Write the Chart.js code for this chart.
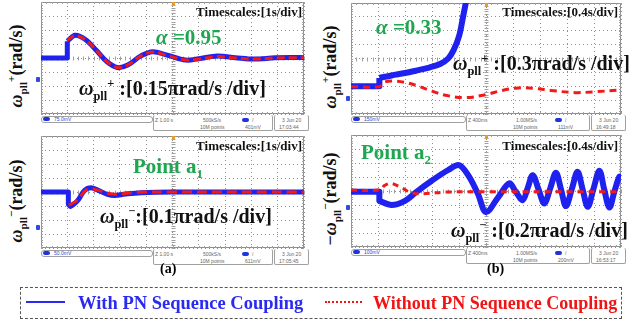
<!DOCTYPE html>
<html>
<head>
<meta charset="utf-8">
<script src="https://cdn.jsdelivr.net/npm/chart.js@4.4.0/dist/chart.umd.min.js"></script>
<style>
body{margin:0;width:636px;height:323px;position:relative;background:#fff;overflow:hidden;font-family:"Liberation Serif","Times New Roman",serif;}
canvas{position:absolute;}
.t{position:absolute;white-space:nowrap;font-weight:bold;line-height:1;z-index:5;}
.ts{font-size:13px;color:#111;}
.gr{font-size:21px;color:#1ea650;}
.sc{font-size:20px;color:#111;}
.yl{position:absolute;width:130px;height:22px;line-height:22px;text-align:center;font-size:18px;font-weight:bold;transform:rotate(-90deg);white-space:nowrap;color:#111;}
sub,sup{font-size:62%;line-height:0;}
.box{position:absolute;border:1px solid #a0a0a0;border-radius:2px;}
.tiny{position:absolute;font-family:"Liberation Sans",sans-serif;font-size:5px;color:#666;white-space:nowrap;line-height:1;}
.ell{position:absolute;width:7px;height:4px;background:#2233dd;border-radius:3px;}
.mk{position:absolute;width:4px;height:5px;background:#2d4be0;border-radius:1px;}
</style>
</head>
<body>

<canvas id="aTop" width="265" height="114" style="left:40px;top:1px"></canvas>
<canvas id="aBot" width="265" height="114" style="left:40px;top:135px"></canvas>
<canvas id="bTop" width="272" height="113" style="left:350px;top:2px"></canvas>
<canvas id="bBot" width="272" height="114" style="left:350px;top:134px"></canvas>

<!-- y labels -->
<div class="yl" style="left:-49px;top:55px"><i>ω</i><sub>pll</sub><sup>+</sup>(rad/s)</div>
<div class="yl" style="left:-49px;top:190px"><i>ω</i><sub>pll</sub><sup>−</sup>(rad/s)</div>
<div class="yl" style="left:265px;top:56px"><i>ω</i><sub>pll</sub><sup>+</sup>(rad/s)</div>
<div class="yl" style="left:265px;top:188px">−<i>ω</i><sub>pll</sub><sup>−</sup>(rad/s)</div>

<!-- panel texts -->
<div class="t ts" style="right:334px;top:5px">Timescales:[1s/div]</div>
<div class="t gr" style="left:156px;top:27px"><i>α</i> =0.95</div>
<div class="t sc" style="left:79px;top:78px"><i>ω</i><sub>pll</sub><sup>+</sup> :[0.15πrad/s /div]</div>

<div class="t ts" style="right:18px;top:5px">Timescales:[0.4s/div]</div>
<div class="t gr" style="left:376px;top:17px"><i>α</i> =0.33</div>
<div class="t sc" style="left:453px;top:53px"><i>ω</i><sub>pll</sub><sup>+</sup> :[0.3πrad/s /div]</div>

<div class="t ts" style="right:334px;top:139px">Timescales:[1s/div]</div>
<div class="t gr" style="left:133px;top:156px">Point a<sub>1</sub></div>
<div class="t sc" style="left:100px;top:206px"><i>ω</i><sub>pll</sub><sup>−</sup>:[0.1πrad/s /div]</div>

<div class="t ts" style="right:18px;top:139px">Timescales:[0.4s/div]</div>
<div class="t gr" style="left:361px;top:142px">Point a<sub>2</sub></div>
<div class="t sc" style="left:451px;top:220px"><i>ω</i><sub>pll</sub><sup>−</sup> :[0.2πrad/s /div]</div>

<div class="t" style="left:160px;top:262px;font-size:14px">(a)</div>
<div class="t" style="left:487px;top:262px;font-size:14px">(b)</div>

<!-- legend -->
<div style="position:absolute;left:20px;top:287px;width:600px;height:30px;border:1.3px dashed #555;"></div>
<div style="position:absolute;left:26px;top:301px;width:39px;height:2px;background:#2a2af0"></div>
<div class="t" style="left:78px;top:294px;font-size:18.5px;color:#2a2af0">With PN Sequence Coupling</div>
<div style="position:absolute;left:325px;top:301px;width:37px;height:0;border-top:2px dotted #f01515"></div>
<div class="t" style="left:373px;top:294px;font-size:18px;color:#f01515">Without PN Sequence Coupling</div>

<script>
// values in oscilloscope divisions: [time div, amplitude div]
const aTopBlue = [[0,0],[1.0,0],[1.0,1.2],[1.3,1.62],[1.7,1.3],[2.1,0.55],[2.5,-0.25],[2.9,-0.68],[3.3,-0.5],[3.8,0.15],[4.25,0.45],[4.8,0.2],[5.5,-0.15],[6.0,-0.05],[6.7,0.14],[7.4,0.02],[8.1,-0.08],[8.9,0.02],[9.5,0.04],[10,0.02]];
const aTopRed = [[1.0,1.25],[1.3,1.6],[1.7,1.28],[2.1,0.55],[2.5,-0.25],[2.9,-0.68],[3.3,-0.5],[3.8,0.15],[4.25,0.42],[4.8,0.18],[5.5,-0.15],[6.0,-0.08],[6.7,0.1],[7.4,0.0],[8.1,-0.08],[8.9,0.0],[9.5,0.02],[10,0.02]];

const aBotBlue = [[0,0],[1.04,0],[1.04,-0.85],[1.12,-1.03],[1.4,-0.6],[1.65,0.1],[1.9,0.3],[2.2,0.1],[2.5,-0.15],[2.8,-0.25],[3.2,-0.15],[3.8,-0.05],[5,0],[10,0]];
const aBotRed = [[1.06,-0.95],[1.4,-0.55],[1.7,0.12],[1.95,0.22],[2.3,0.05],[2.7,-0.15],[3.1,-0.12],[3.7,-0.02],[5,0],[10,0]];

const bTopBlue = [[0,-2.0],[1.05,-2.0],[1.05,-1.4],[1.5,-1.22],[2.0,-1.05],[2.4,-0.88],[2.9,-0.65],[3.3,-0.4],[3.6,0.0],[3.8,0.6],[4.0,1.6],[4.15,3.0],[4.28,4.3]];
const bTopRed = [[0,-2.03],[1.05,-2.03],[1.25,-1.7],[1.55,-1.62],[2.0,-1.72],[2.5,-2.0],[3.0,-2.35],[3.5,-2.65],[4.25,-2.82],[5.0,-2.6],[5.6,-2.3],[6.2,-2.12],[6.8,-2.15],[7.4,-2.3],[8.3,-2.46],[9.0,-2.4],[10,-2.27]];

const bBotBlue = [[0,-0.06],[1.05,-0.06],[1.05,-0.7],[1.5,-1.0],[2.0,-0.7],[2.4,-0.1],[3.0,0.75],[3.6,1.5],[4.0,1.85],[4.35,1.1],[4.7,-0.2],[5.0,-1.5],[5.45,-0.45],[5.86,0.54],[6.1,-0.05],[6.36,-0.65],[6.55,0.25],[6.73,1.13],[6.95,0.1],[7.16,-0.89],[7.38,0.2],[7.59,1.3],[7.78,0.1],[7.96,-1.08],[8.18,0.15],[8.39,1.37],[8.58,0.1],[8.77,-1.13],[8.98,0.15],[9.2,1.45],[9.38,0.1],[9.57,-1.18],[9.76,0.0],[9.94,1.02],[10,0.9]];
const bBotRed = [[0,0.07],[1.05,0.07],[1.25,0.4],[1.48,0.55],[1.9,0.2],[2.28,-0.15],[2.8,-0.18],[3.5,-0.08],[5,-0.05],[10,-0.05]];

// status bar texts
const statusA1 = ["75.0mV", "Z 1.00 s", "500kS/s", "401mV", "17:03:44"];
const statusA2 = ["50.0mV", "Z 1.00 s", "500kS/s", "611mV", "17:05:45"];
const statusB1 = ["150mV", "Z 400ms", "1.00MS/s", "111mV", "16:49:18"];
const statusB2 = ["100mV", "Z 400ms", "1.00MS/s", "200mV", "16:53:17"];

const BLUE = "#1f22ee";
const RED = "#f01a1a";

const scopeDecor = {
  id: "scopeDecor",
  beforeDatasetsDraw(chart) {
    const { ctx, chartArea: a, scales: { x, y } } = chart;
    ctx.save();
    ctx.strokeStyle = "#8d8d8d";
    ctx.lineWidth = 1;
    ctx.strokeRect(a.left + 0.5, a.top + 0.5, a.right - a.left - 1, a.bottom - a.top - 1);
    // minor ticks on center lines and edges
    ctx.strokeStyle = "#a0a0a0";
    const yc = Math.round(y.getPixelForValue(0)) + 0.5, xc = Math.round(x.getPixelForValue(5)) + 0.5;
    ctx.beginPath();
    for (let i = 0; i <= 50; i++) {
      const px = Math.round(x.getPixelForValue(i * 0.2)) + 0.5;
      ctx.moveTo(px, yc - 2); ctx.lineTo(px, yc + 2);
      ctx.moveTo(px, a.top); ctx.lineTo(px, a.top + 2);
      ctx.moveTo(px, a.bottom); ctx.lineTo(px, a.bottom - 2);
    }
    for (let j = 0; j <= 40; j++) {
      const py = Math.round(y.getPixelForValue(-4 + j * 0.2)) + 0.5;
      ctx.moveTo(xc - 2, py); ctx.lineTo(xc + 2, py);
      ctx.moveTo(a.left, py); ctx.lineTo(a.left + 2, py);
      ctx.moveTo(a.right, py); ctx.lineTo(a.right - 2, py);
    }
    ctx.stroke();
    ctx.fillStyle = "#e89a30";
    ctx.fillRect(xc - 1.5, a.top, 3, 4);
    ctx.restore();
  }
};

function pts(arr) { return arr.map(p => ({ x: p[0], y: p[1] })); }

// split a trace at its vertical step so the curve spline does not loop
function splitStep(arr) {
  for (let i = 1; i < arr.length; i++) {
    if (arr[i][0] === arr[i - 1][0]) return [arr.slice(0, i + 1), arr.slice(i)];
  }
  return [[], arr];
}

function makeScope(id, blue, red, dash, blueWidth) {
  const [step, curve] = splitStep(blue);
  return new Chart(document.getElementById(id), {
    type: "line",
    data: {
      datasets: [
        { data: pts(red), borderColor: RED, borderWidth: 3, borderDash: dash, tension: 0.35 },
        { data: pts(curve), borderColor: BLUE, borderWidth: blueWidth, tension: 0.35 },
        { data: pts(step), borderColor: BLUE, borderWidth: blueWidth, tension: 0 }
      ]
    },
    options: {
      responsive: false,
      animation: false,
      events: [],
      layout: { padding: 1 },
      elements: { point: { radius: 0 }, line: { fill: false, borderJoinStyle: "round" } },
      plugins: { legend: { display: false }, tooltip: { enabled: false } },
      scales: {
        x: {
          type: "linear", min: 0, max: 10,
          ticks: { display: false, stepSize: 1 },
          grid: { color: "#8f8f8f", drawTicks: false },
          border: { display: false, dash: [1, 3] }
        },
        y: {
          type: "linear", min: -4, max: 4,
          ticks: { display: false, stepSize: 1 },
          grid: { color: "#8f8f8f", drawTicks: false },
          border: { display: false, dash: [1, 3] }
        }
      }
    },
    plugins: [scopeDecor]
  });
}

makeScope("aTop", aTopBlue, aTopRed, [8, 4], 5);
makeScope("aBot", aBotBlue, aBotRed, [10, 5], 5);
makeScope("bTop", bTopBlue, bTopRed, [7, 5], 6);
makeScope("bBot", bBotBlue, bBotRed, [6, 5], 6);

function addEl(cls, left, top, text, extra) {
  const d = document.createElement("div");
  d.className = cls;
  d.style.left = left + "px";
  d.style.top = top + "px";
  if (extra) Object.assign(d.style, extra);
  if (text) d.textContent = text;
  document.body.appendChild(d);
  return d;
}

function statusBar(L, R, y, s) {
  const w = R - L;
  addEl("box", L, y, "", { width: Math.round(w * 0.42) + "px", height: "5px", borderRadius: "3px" });
  addEl("ell", L + 2, y + 1);
  addEl("tiny", L + 13, y + 1, s[0], { color: "#3344cc" });
  const m = L + Math.round(w * 0.425);
  addEl("box", m, y - 1, "", { width: Math.round(w * 0.45) + "px", height: "15px", borderTop: "none" });
  addEl("tiny", m + 2, y + 2, s[1]);
  addEl("tiny", m + 50, y + 2, s[2]);
  addEl("tiny", m + 47, y + 9, "10M points");
  addEl("ell", m + 89, y + 2);
  addEl("tiny", m + 99, y + 2, "/");
  addEl("tiny", m + 92, y + 9, s[3]);
  addEl("box", R - 30, y - 1, "", { width: "33px", height: "15px", borderTop: "none" });
  addEl("tiny", R - 22, y + 2, "3 Jun 20");
  addEl("tiny", R - 25, y + 9, s[4]);
}

statusBar(41, 304, 116, statusA1);
statusBar(41, 304, 250, statusA2);
statusBar(351, 621, 116, statusB1);
statusBar(351, 621, 249, statusB2);

// channel ground markers
addEl("mk", 36, 77);
addEl("mk", 36, 225);
addEl("mk", 346, 96);
addEl("mk", 346, 205);
</script>
</body>
</html>
